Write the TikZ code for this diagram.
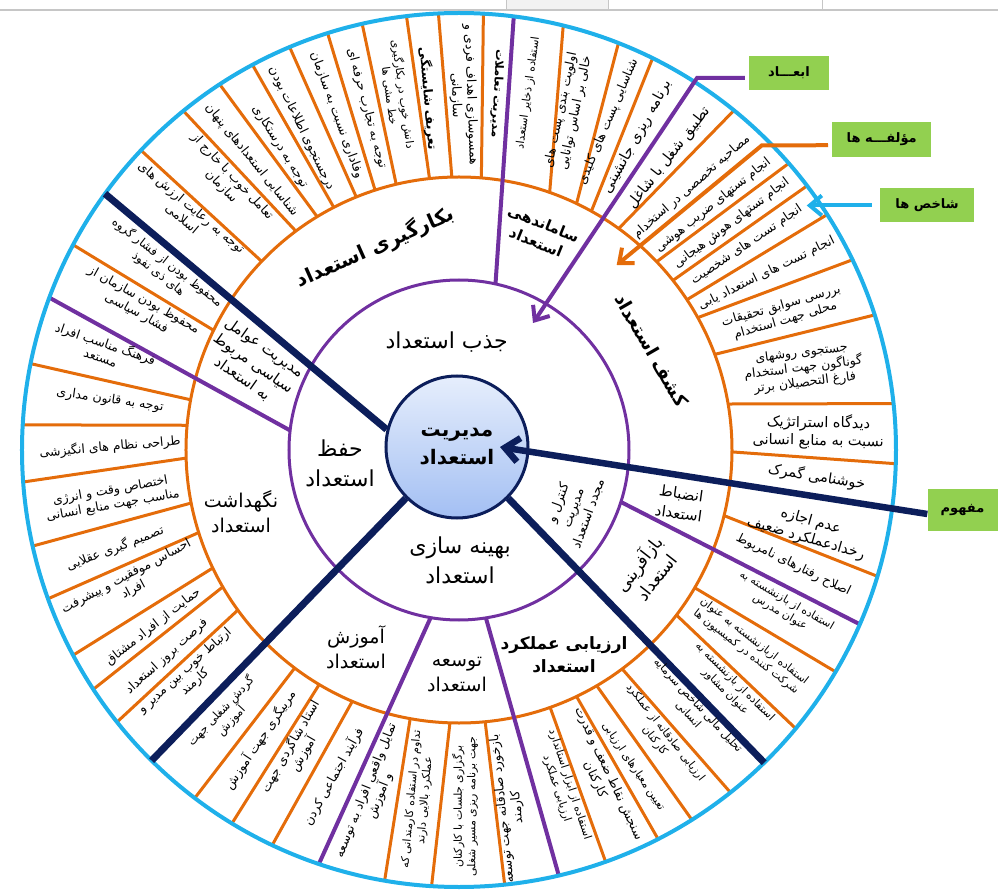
\documentclass[tikz,border=0pt]{standalone}
\usepackage{fontspec}
\usetikzlibrary{arrows.meta}
\newfontfamily\fa[Script=Arabic]{DejaVu Sans}
\TeXXeTstate=1
\newcommand{\R}[1]{\beginR #1\endR}
\definecolor{cBlue}{HTML}{1FB0EA}
\definecolor{cOr}{HTML}{E46C0A}
\definecolor{cPu}{HTML}{7030A0}
\definecolor{cNavy}{HTML}{0C1E5B}
\definecolor{cGreen}{HTML}{92D050}
\definecolor{cTop}{HTML}{E6EEFC}
\definecolor{cBot}{HTML}{A3BFF3}
\begin{document}
\begin{tikzpicture}[x=1pt,y=1pt,
 osep/.style={draw=cOr, line width=3},
 psep/.style={draw=cPu, line width=4},
 nsep/.style={draw=cNavy, line width=7},
 ind/.style={font=\fa\fontsize{12.5}{15}\selectfont, align=center, inner sep=0pt},
 indS/.style={font=\fa\fontsize{11}{13.5}\selectfont, align=center, inner sep=0pt},
 indB/.style={font=\fa\bfseries\fontsize{12.5}{15}\selectfont, align=center, inner sep=0pt},
 indL/.style={font=\fa\fontsize{14.5}{18}\selectfont, align=center, inner sep=0pt},
 comp/.style={font=\fa\fontsize{19}{25}\selectfont, align=center, inner sep=0pt},
 compB/.style={font=\fa\bfseries\fontsize{17}{23}\selectfont, align=center, inner sep=0pt},
 compS/.style={font=\fa\fontsize{15}{19}\selectfont, align=center, inner sep=0pt},
 dim/.style={font=\fa\fontsize{22}{30}\selectfont, align=center, inner sep=0pt},
 dimS/.style={font=\fa\fontsize{13}{16}\selectfont, align=center, inner sep=0pt},
 gbox/.style={fill=cGreen, font=\fa\bfseries\fontsize{13}{15}\selectfont, inner sep=0pt},
 barb/.style={-{Straight Barb[length=12pt,width=20pt]}},
]
\useasboundingbox (-459,-441) rectangle (539,450);
% screenshot remnants at the top
\fill[gray!10] (47,440) rectangle (149,450);
\draw[gray!45, line width=1] (47,440) -- (47,450) (149,440) -- (149,450) (363,440) -- (363,450);
\draw[gray!45, line width=1.5] (-459,440) -- (539,440);

% rings
\coordinate (O) at (0,0);
\draw[cOr, line width=3] (O) circle (273);
\draw[cPu, line width=3] (O) circle (170);

% orange separators (inner angle / outer angle)
\foreach \i/\o in {136.3/136.7, 126.7/129.1, 121.3/123.2, 117.3/118.2, 112.1/112.8,
  107.9/107.5, 103.3/102.8, 96.2/96.9, 91.5/92.7, 85.3/86.8,
  70.6/76.2, 64.5/68.6, 61/63.7, 54.2/51,
  43.6/41, 38.4/37.2, 33.4/32.6, 29/25.8, 20.5/18, 9.7/6.1,
  -0.4/-1.8, -13.9/-16.8, -30.3/-30.5, -37.2/-39.6,
  -53.3/-51.6, -59.7/-57.8, -64.5/-62.9, -70.5/-70.4, -84.5/-84,
  -91.9/-93.6, -100.3/-99.8, -113/-115.3, -120.8/-121.3, -127/-127.2,
  215.9/218.5, 210.1/213.2, 205.6/208, 197.6/199.9, 191.2/192.7,
  181.7/184.2, 174.8/176.7, 169.4/168.6, 154/152}
  {\draw[osep] (\i:273) -- (\o:437);}
% purple separators (from the purple ring)
\foreach \i/\o in {77.6/82.8, -17.8/-23.5, -80.9/-76.8, -99.6/-108.7, 173.4/159.6}
  {\draw[psep] (\i:170) -- (\o:437);}

\draw[cBlue, line width=4] (O) circle (437);

% centre
\node[circle, draw=cNavy, line width=3, top color=cTop, bottom color=cBot,
  minimum size=142, font=\fa\bfseries\fontsize{20}{28}\selectfont, align=center] (ctr) at (-2,3)
  {\R{مدیریت}\\\R{استعداد}};

% navy dimension separators
\coordinate (nUL) at (144.1:437);
\coordinate (nLL) at (225.3:437);
\coordinate (nLR) at (-45.7:437);
\draw[nsep] (nUL) -- (ctr.166);
\draw[nsep] (nLL) -- (ctr.225);
\draw[nsep] (nLR) -- (ctr.315);

% callout boxes
\node[gbox, minimum width=80, minimum height=34] (abad) at (330,377) {\R{ابعـــاد}};
\node[gbox, minimum width=99, minimum height=35] (mol) at (422.7,310.8) {\R{مؤلفـــه ها}};
\node[gbox, minimum width=94, minimum height=34] (shax) at (468,244.5) {\R{شاخص ها}};
\node[gbox, minimum width=70, minimum height=42] (maf) at (503.5,-60) {\R{مفهوم}};

\coordinate (pk) at (238,372);
\coordinate (ptip) at (74,127);
\coordinate (ok) at (302.7,304.5);
\coordinate (otip) at (157.7,185);
\coordinate (btip) at (347.7,244.5);
\coordinate (mtip) at (41,3);
\draw[cPu, line width=4, barb] ([xshift=-4,yshift=-5]abad.west) -- (pk) -- (ptip);
\draw[cOr, line width=4, barb] ([xshift=-4,yshift=-6]mol.west) -- (ok) -- (otip);
\draw[cBlue, line width=4, barb] ([xshift=-8]shax.west) -- (btip);
\draw[cNavy, line width=6.5, -{Straight Barb[length=14pt,width=24pt]}] ([yshift=-4]maf.west) -- (mtip);

% dimensions
\node[dim] (d1) at (-12.3,108.3) {\R{جذب استعداد}};
\node[dim] (d2) at (-119,-13.3) {\R{حفظ}\\\R{استعداد}};
\node[dim] (d3) at (1,-110) {\R{بهینه سازی}\\\R{استعداد}};
\node[dimS, rotate=70] (d4) at (114.3,-58.3) {\R{کنترل و}\\\R{مدیریت}\\\R{مجدد استعداد}};

% components
\node[compB, font=\fa\bfseries\fontsize{20}{26}\selectfont, rotate=24] (c1) at (-84,203) {\R{بکارگیری استعداد}};
\node[compB, font=\fa\bfseries\fontsize{15}{20}\selectfont, rotate=-22] (c2) at (81,217) {\R{ساماندهی}\\\R{استعداد}};
\node[compB, font=\fa\bfseries\fontsize{18.5}{24}\selectfont, rotate=-60] (c3) at (192.7,100) {\R{کشف استعداد}};
\node[comp, font=\fa\fontsize{15}{20}\selectfont, rotate=-8] (c4) at (221,-53.3) {\R{انضباط}\\\R{استعداد}};
\node[comp, font=\fa\fontsize{17}{22}\selectfont, rotate=52] (c5) at (187.7,-120) {\R{بازآفرینی}\\\R{استعداد}};
\node[compB] (c6) at (105,-205) {\R{ارزیابی عملکرد}\\\R{استعداد}};
\node[comp] (c7) at (-2,-225) {\R{توسعه}\\\R{استعداد}};
\node[comp] (c8) at (-103,-197) {\R{آموزش}\\\R{استعداد}};
\node[comp] (c9) at (-218,-62) {\R{نگهداشت}\\\R{استعداد}};
\node[compS, rotate=-35] (c10) at (-205.7,86.7) {\R{مدیریت عوامل}\\\R{سیاسی مربوط}\\\R{به استعداد}};

% indicators
\node[ind, rotate=-40] (i1) at (-272.3,236.7) {\R{توجه به رعایت ارزش های}\\\R{اسلامی}};
\node[ind, rotate=-47] (i2) at (-232.3,268.3) {\R{تعامل خوب با خارج از}\\\R{سازمان}};
\node[ind, rotate=-51] (i3) at (-207.3,290) {\R{شناسایی استعدادهای پنهان}};
\node[ind, rotate=-58] (i4) at (-179,303.3) {\R{توجه به درستکاری}};
\node[ind, rotate=-64] (i5) at (-157.3,321.7) {\R{درجستجوی اطلاعات بودن}};
\node[ind, rotate=-70] (i6) at (-122.3,335) {\R{وفاداری نسبت به سازمان}};
\node[ind, rotate=-75] (i7) at (-92.3,341.7) {\R{توجه به تجارب حرفه ای}};
\node[indS, rotate=-82] (i8) at (-62.3,355) {\R{دانش خوب در بکارگیری}\\\R{خط مشی ها}};
\node[indB, rotate=-85] (i9) at (-30.7,351.7) {\R{تعریف شایستگی}};
\node[ind, rotate=-88] (i10) at (4.3,355) {\R{همسوسازی اهداف فردی و}\\\R{سازمانی}};
\node[indB, font=\fa\bfseries\fontsize{11.5}{14}\selectfont, rotate=-93] (i11) at (38,356.7) {\R{مدیریت تعاملات}};
\node[indS, rotate=82] (i12) at (69.3,356.7) {\R{استفاده از ذخایر استعداد}};
\node[ind, rotate=78] (i13) at (109.3,338.3) {\R{اولویت بندی پست های}\\\R{خالی بر اساس توانایی}};
\node[ind, rotate=67] (i14) at (149.3,328.3) {\R{شناسایی پست های کلیدی}};
\node[indL, rotate=61] (i15) at (178,313) {\R{برنامه ریزی جانشینی}};
\node[indL, rotate=52] (i16) at (210,292) {\R{تطبیق شغل با شاغل}};
\node[ind, rotate=41] (i17) at (232.7,263.3) {\R{مصاحبه تخصصی در استخدام}};
\node[ind, rotate=38.5] (i18) at (254.3,245) {\R{انجام تستهای ضریب هوشی}};
\node[ind, rotate=37] (i19) at (272.7,226.7) {\R{انجام تستهای هوش هیجانی}};
\node[ind, rotate=34] (i20) at (287.7,205) {\R{انجام تست های شخصیت}};
\node[ind, rotate=26] (i21) at (307.7,176.7) {\R{انجام تست های استعداد یابی}};
\node[ind, rotate=16] (i22) at (324.3,136.7) {\R{بررسی سوابق تحقیقات}\\\R{محلی جهت استخدام}};
\node[ind, rotate=7] (i23) at (344.3,81.7) {\R{جستجوی روشهای}\\\R{گوناگون جهت استخدام}\\\R{فارغ التحصیلان برتر}};
\node[indL, rotate=-1] (i24) at (359.3,18.3) {\R{دیدگاه استراتژیک}\\\R{نسبت به منابع انسانی}};
\node[indL, rotate=-9] (i25) at (357.7,-26.7) {\R{خوشنامی گمرک}};
\node[indL, rotate=-16] (i26) at (349.3,-80) {\R{عدم اجازه}\\\R{رخدادعملکرد ضعیف}};
\node[ind, rotate=-26] (i27) at (334.3,-115) {\R{اصلاح رفتارهای نامربوط}};
\node[indS, rotate=-30] (i28) at (324.3,-156.7) {\R{استفاده از بازنشسته به}\\\R{عنوان مدرس}};
\node[indS, rotate=-38] (i29) at (291,-196.7) {\R{استفاده ازبازنشسته به عنوان}\\\R{شرکت کننده در کمیسیون ها}};
\node[indS, rotate=-45] (i30) at (271,-236.7) {\R{استفاده از بازنشسته به}\\\R{عنوان مشاور}};
\node[indS, rotate=-47] (i31) at (234.3,-260) {\R{تحلیل مالی شاخص سرمایه}\\\R{انسانی}};
\node[indS, rotate=-52] (i32) at (201,-286.7) {\R{ارزیابی صادقانه از عملکرد}\\\R{کارکنان}};
\node[indS, rotate=-56] (i33) at (174.3,-316.7) {\R{تعیین معیارهای ارزیابی}};
\node[ind, rotate=-65] (i34) at (142.7,-326.7) {\R{سنجش نقاط ضعف و قدرت}\\\R{کارکنان}};
\node[indS, rotate=-72] (i35) at (104.3,-336.7) {\R{استفاده از ابزار استاندارد}\\\R{ارزیابی عملکرد}};
\node[ind, rotate=96] (i36) at (51,-358) {\R{بازخورد صادقانه جهت توسعه}\\\R{کارمند}};
\node[indS, rotate=90] (i37) at (6,-356.7) {\R{برگزاری جلسات با کارکنان}\\\R{جهت برنامه ریزی مسیر شغلی}};
\node[indS, rotate=85] (i38) at (-40.7,-350) {\R{تداوم در استفاده کارمندانی که}\\\R{عملکرد بالایی دارند}};
\node[ind, rotate=68] (i39) at (-85.7,-343.3) {\R{تمایل واقعی افراد به توسعه}\\\R{و آموزش}};
\node[ind, rotate=61] (i40) at (-125.7,-326.7) {\R{فرآیند اجتماعی کردن}};
\node[ind, rotate=60] (i41) at (-162.3,-300) {\R{استاد شاگردی جهت}\\\R{آموزش}};
\node[ind, rotate=56] (i42) at (-199,-290) {\R{مربیگری جهت آموزش}};
\node[ind, font=\fa\fontsize{11.5}{14}\selectfont, rotate=47] (i43) at (-233,-266) {\R{گردش شغلی جهت}\\\R{آموزش}};
\node[ind, rotate=42] (i44) at (-269,-226.7) {\R{ارتباط خوب بین مدیر و}\\\R{کارمند}};
\node[ind, rotate=42] (i45) at (-292.3,-206.7) {\R{فرصت بروز استعداد}};
\node[ind, rotate=38] (i46) at (-305.7,-176.7) {\R{حمایت از افراد مشتاق}};
\node[ind, rotate=28] (i47) at (-329,-133.3) {\R{احساس موفقیت و پیشرفت}\\\R{افراد}};
\node[ind, rotate=21] (i48) at (-344,-98.3) {\R{تصمیم گیری عقلایی}};
\node[ind, rotate=10] (i49) at (-347.3,-48.3) {\R{اختصاص وقت و انرژی}\\\R{مناسب جهت منابع انسانی}};
\node[ind, rotate=5] (i50) at (-349,3.3) {\R{طراحی نظام های انگیزشی}};
\node[ind, rotate=-8] (i51) at (-349,50) {\R{توجه به قانون مداری}};
\node[ind, rotate=-19] (i52) at (-355.7,100) {\R{فرهنگ مناسب افراد}\\\R{مستعد}};
\node[ind, rotate=-29] (i53) at (-319,143.3) {\R{محفوظ بودن سازمان از}\\\R{فشار سیاسی}};
\node[ind, font=\fa\fontsize{12}{14.5}\selectfont, rotate=-38] (i54) at (-296,182) {\R{محفوظ بودن از فشار گروه}\\\R{های ذی نفوذ}};
\end{tikzpicture}
\end{document}
